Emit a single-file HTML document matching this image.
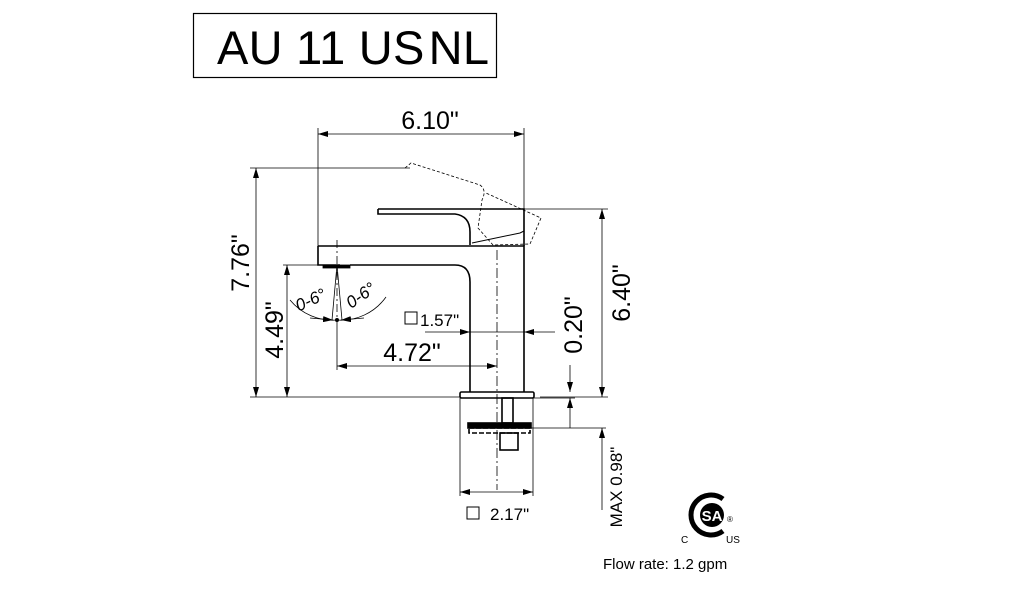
<!DOCTYPE html>
<html><head><style>
html,body{margin:0;padding:0;background:#fff;}
svg{display:block;font-family:"Liberation Sans",Arial,sans-serif;}
</style></head><body>
<svg width="1014" height="600" viewBox="0 0 1014 600" xmlns="http://www.w3.org/2000/svg">
<defs>
<marker id="a" viewBox="0 0 10 6" refX="10" refY="3" markerWidth="10" markerHeight="6" orient="auto-start-reverse" markerUnits="userSpaceOnUse"><path d="M0,0 L10,3 L0,6z" fill="#000"/></marker>
</defs>
<rect x="193.5" y="13.5" width="303" height="64" fill="none" stroke="#000" stroke-width="1.2"/>
<text x="217" y="64" font-size="47" fill="#000" textLength="272" lengthAdjust="spacing">AU 11 US<tspan dx="4">NL</tspan></text>

<g stroke="#000" stroke-width="0.8" fill="none">
<line x1="318" y1="128" x2="318" y2="246"/>
<line x1="524" y1="128" x2="524" y2="210"/>
<line x1="318" y1="134" x2="524" y2="134" marker-start="url(#a)" marker-end="url(#a)"/>
<line x1="250" y1="168" x2="410" y2="168"/>
<line x1="250" y1="397" x2="460" y2="397"/>
<line x1="256" y1="168" x2="256" y2="397" marker-start="url(#a)" marker-end="url(#a)"/>
<line x1="283" y1="265" x2="325" y2="265"/>
<line x1="287" y1="265" x2="287" y2="397" marker-start="url(#a)" marker-end="url(#a)"/>
<line x1="337" y1="320" x2="337" y2="370"/>
<line x1="337" y1="366" x2="497" y2="366" marker-start="url(#a)" marker-end="url(#a)"/>
<line x1="425" y1="332" x2="470" y2="332" marker-end="url(#a)"/>
<line x1="555" y1="332" x2="524" y2="332" marker-end="url(#a)"/>
<line x1="470" y1="332" x2="524" y2="332"/>
<line x1="524" y1="209" x2="608" y2="209"/>
<line x1="540" y1="397" x2="608" y2="397"/>
<line x1="602" y1="209" x2="602" y2="397" marker-start="url(#a)" marker-end="url(#a)"/>
<line x1="570" y1="365" x2="570" y2="392" marker-end="url(#a)"/>
<line x1="570" y1="428" x2="570" y2="398" marker-end="url(#a)"/>
<line x1="533" y1="398" x2="575" y2="398"/>
<line x1="520" y1="428" x2="606" y2="428"/>
<line x1="602" y1="510" x2="602" y2="428" marker-end="url(#a)"/>
<line x1="460" y1="398" x2="460" y2="496"/>
<line x1="533" y1="398" x2="533" y2="496"/>
<line x1="460" y1="492" x2="533" y2="492" marker-start="url(#a)" marker-end="url(#a)"/>
<line x1="497" y1="250" x2="497" y2="490" stroke-dasharray="10,3,2,3"/>
<line x1="337" y1="240" x2="337" y2="320" stroke-dasharray="8,3,2,3"/>
<path d="M290,300 A55,55 0 0 0 337,320"/>
<path d="M337,320 A55,55 0 0 0 386,297"/>
<line x1="337" y1="265" x2="332" y2="320"/>
<line x1="337" y1="265" x2="342" y2="320"/>
<line x1="310" y1="318" x2="333" y2="320" marker-end="url(#a)"/>
<line x1="364" y1="318" x2="341" y2="320" marker-end="url(#a)"/>
</g>
<circle cx="337" cy="320" r="2" fill="#000"/>

<g stroke="#000" stroke-width="1.6" fill="none">
<path d="M318,246 L524,246 L524,392"/>
<path d="M318,246 L318,265 L340,265 M350,265 L455,265 Q470,265 470,282 L470,392"/>
<rect x="323" y="265" width="27" height="3" fill="#000" stroke-width="0.8"/>
<path d="M378,209 L524,209 L524,246 M378,209 L378,214 L455,214 Q470,216 470,232 L470,245"/>
<path d="M472,243 L520,233 L524,231" stroke-width="1"/>
<rect x="460" y="392" width="74" height="6" rx="1.5"/>
<rect x="502" y="398" width="11" height="25"/>
<rect x="468" y="423" width="63" height="5" fill="#000"/>
<rect x="469" y="428" width="61" height="5" stroke-dasharray="5,2"/>
<rect x="500" y="433" width="18" height="17"/>
</g>
<path d="M405,168 L411,163 L480,185 Q487,190 482,200 L478,228 L493,245 L530,244 L541,218 L486,193" stroke="#000" stroke-width="0.8" fill="none" stroke-dasharray="3,2"/>

<g fill="#000" font-size="25">
<text x="430" y="129" text-anchor="middle">6.10"</text>
<text x="412" y="361" text-anchor="middle">4.72"</text>
<text transform="translate(249,263) rotate(-90)" text-anchor="middle">7.76"</text>
<text transform="translate(283,330) rotate(-90)" text-anchor="middle">4.49"</text>
<text transform="translate(630,293) rotate(-90)" text-anchor="middle">6.40"</text>
<text transform="translate(582,325) rotate(-90)" text-anchor="middle">0.20"</text>
</g>
<g fill="#000" font-size="17">
<text x="420" y="326">1.57"</text>
<text x="490" y="520">2.17"</text>
<text transform="translate(622,487) rotate(-90)" text-anchor="middle">MAX 0.98"</text>
<text transform="translate(313,305) rotate(-25)" text-anchor="middle" font-style="italic">0-6°</text>
<text transform="translate(364,300) rotate(-35)" text-anchor="middle" font-style="italic">0-6°</text>
<text x="603" y="569" font-size="15">Flow rate: 1.2 gpm</text>
</g>
<rect x="405" y="312" width="12" height="12" fill="none" stroke="#000" stroke-width="1"/>
<rect x="467" y="507" width="12" height="12" fill="none" stroke="#000" stroke-width="1"/>

<path d="M723,499 A20,20 0 1 0 723,531" stroke="#000" stroke-width="5" fill="none"/>
<circle cx="712" cy="515" r="12" fill="#000"/>
<text x="712" y="521" font-size="15" font-weight="bold" fill="#fff" text-anchor="middle">SA</text>
<text x="727" y="522" font-size="8" fill="#000">®</text>
<text x="681" y="543" font-size="10" fill="#000">C</text>
<text x="726" y="543" font-size="10" fill="#000">US</text>
</svg>
</body></html>
